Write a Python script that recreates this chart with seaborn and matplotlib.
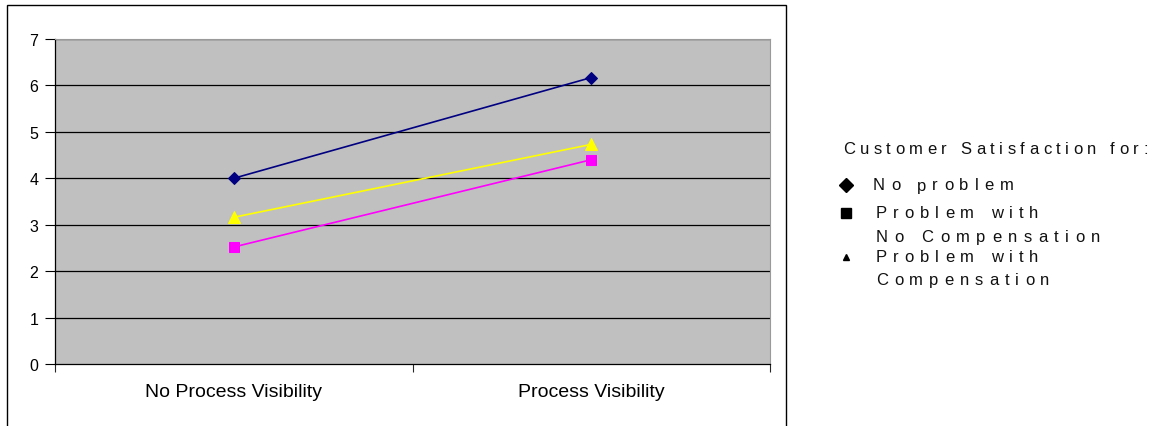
import matplotlib
matplotlib.use("Agg")
import matplotlib.pyplot as plt
from matplotlib.patches import Rectangle
from matplotlib.lines import Line2D
import seaborn as sns
import pandas as pd

# Customer satisfaction by process visibility
conditions = ["No Process Visibility", "Process Visibility"]
no_problem = [4.0, 6.17]
problem_no_comp = [2.52, 4.40]
problem_comp = [3.16, 4.73]
series_names = ["No problem", "Problem with No Compensation", "Problem with Compensation"]
y_ticks = [0, 1, 2, 3, 4, 5, 6, 7]

df = pd.DataFrame({
    "condition": conditions * 3,
    "score": no_problem + problem_no_comp + problem_comp,
    "group": [series_names[0]] * 2 + [series_names[1]] * 2 + [series_names[2]] * 2,
})
df["xpos"] = df["condition"].map({c: i for i, c in enumerate(conditions)})

sns.set_theme(style="white")
plt.rcParams["font.family"] = ["Liberation Sans", "DejaVu Sans"]

W, H = 1174, 427
fig = plt.figure(figsize=(W / 100, H / 100), dpi=100)
ax = fig.add_axes([55 / W, 1 - 365 / H, (770 - 55) / W, (365 - 40) / H])

# outer chart frame (bottom edge runs off the canvas)
fig.patches.append(Rectangle((7 / W, -0.1), (786 - 7) / W, 1.1 - 6 / H,
                             transform=fig.transFigure, fill=False,
                             edgecolor="black", linewidth=1.0))

ax.set_facecolor("#C0C0C0")
for y in y_ticks[1:]:
    ax.axhline(y, color="black", linewidth=0.9, zorder=1)

palette = {series_names[0]: "#000080", series_names[1]: "#FF00FF", series_names[2]: "#FFFF00"}
markers = {series_names[0]: "D", series_names[1]: "s", series_names[2]: "^"}
sizes = {series_names[0]: 6, series_names[1]: 7, series_names[2]: 8}
for name in series_names:
    sub = df[df["group"] == name]
    sns.lineplot(data=sub, x="xpos", y="score", ax=ax, color=palette[name],
                 marker=markers[name], markersize=sizes[name],
                 markeredgecolor=palette[name], linewidth=1.2, legend=False, zorder=3)

ax.set_xlim(-0.5, 1.5)
ax.set_ylim(0, 7)
ax.set_yticks(y_ticks)
ax.set_yticklabels([str(v) for v in y_ticks], fontsize=11.5)
ax.set_xticks([-0.5, 0.5, 1.5])
ax.set_xticklabels([])
for i, c in enumerate(conditions):
    ax.text(i, -0.6, c, ha="center", va="center", fontsize=14,
            transform=ax.transData, color="black")
ax.set_xlabel("")
ax.set_ylabel("")
ax.tick_params(axis="y", direction="out", length=7, width=0.8, pad=5, colors="black", left=True)
ax.tick_params(axis="x", direction="out", length=6, width=0.8, bottom=True)
for side in ["top", "right"]:
    ax.spines[side].set_color("#9a9a9a")
    ax.spines[side].set_linewidth(0.8)
for side in ["left", "bottom"]:
    ax.spines[side].set_color("black")
    ax.spines[side].set_linewidth(0.9)

renderer = fig.canvas.get_renderer()


def spaced_text(x_px, y_px, s, size=12, gap=6.0):
    """Draw a string with wide letter spacing, starting at pixel x, centred on pixel y."""
    x = x_px
    space_w = size * 100 / 72 * 0.278
    for ch in s:
        if ch == " ":
            x += space_w + gap
            continue
        t = fig.text(x / W, 1 - y_px / H, ch, fontsize=size, va="center", ha="left", color="#111111")
        w = t.get_window_extent(renderer).width
        x += w + gap


spaced_text(843, 150, "Customer Satisfaction for:", gap=4.5)
spaced_text(873, 186, "No problem")
spaced_text(876, 214, "Problem with")
spaced_text(876, 238, "No Compensation", gap=6.5)
spaced_text(876, 257, "Problem with")
spaced_text(876, 281, "Compensation")

for yk, mk, ms in [(186, "D", 7.5), (214, "s", 7), (258, "^", 5)]:
    fig.lines.append(Line2D([846 / W], [1 - yk / H], transform=fig.transFigure,
                            marker=mk, markersize=ms, color="black", linestyle="none"))

fig.savefig("out.png", dpi=100)
